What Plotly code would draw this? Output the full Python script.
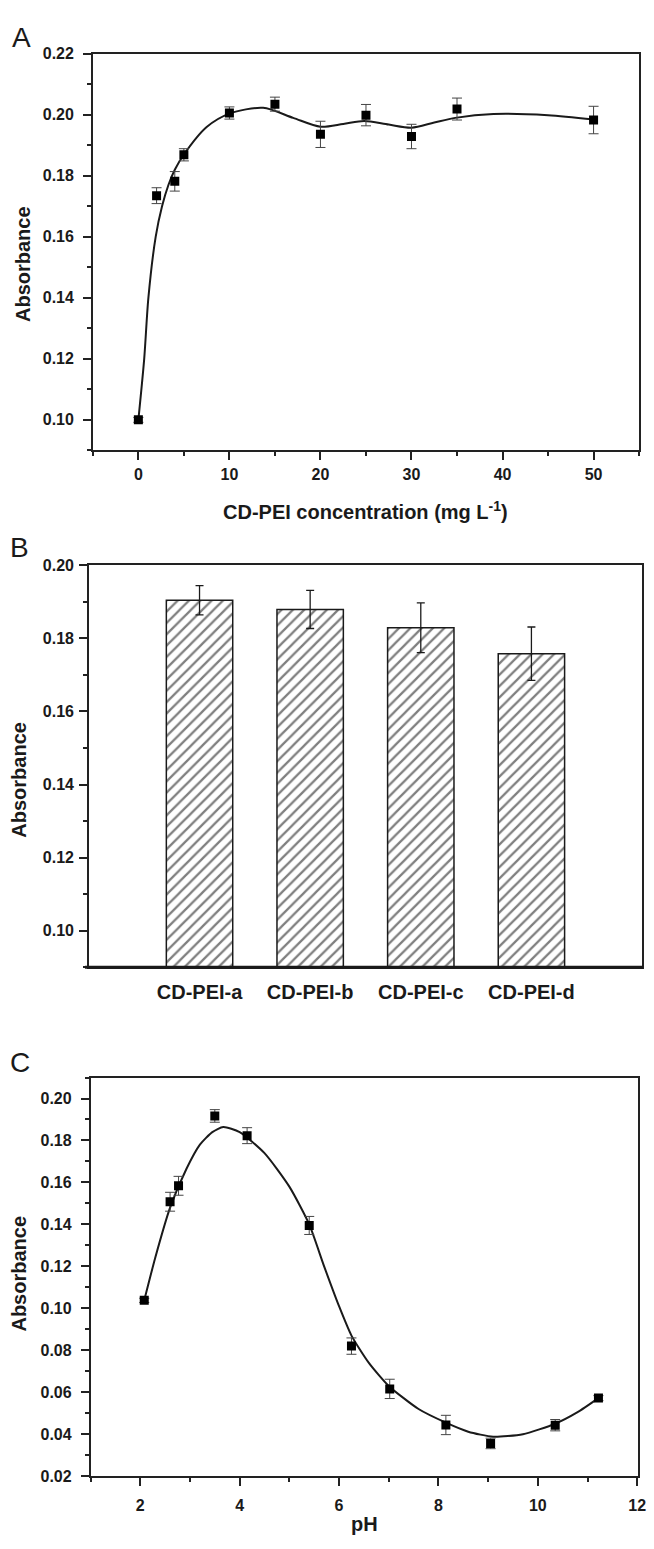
import plotly.graph_objects as go

W, H = 654, 1549

# ---------------- Panel A data ----------------
conc = [0, 2, 4, 5, 10, 15, 20, 25, 30, 35, 50]
abs_a = [0.1000, 0.1735, 0.1782, 0.1869, 0.2006, 0.2035, 0.1936, 0.1999, 0.1929, 0.2019, 0.1983]
err_a = [0.0008, 0.0026, 0.0032, 0.0020, 0.0020, 0.0023, 0.0043, 0.0035, 0.0040, 0.0036, 0.0045]
fit_a_x = [0, 0.64, 1.1, 1.9, 2.6, 3.3, 4, 5, 7.5, 10, 13.7, 17, 20, 22.5, 24.8, 27.5, 30, 32.5, 34.8, 39, 45, 50]
fit_a_y = [0.100, 0.120, 0.140, 0.160, 0.170, 0.177, 0.182, 0.187, 0.196, 0.2004, 0.2023, 0.1990, 0.1961,
           0.1970, 0.1980, 0.1968, 0.1958, 0.1975, 0.1990, 0.2003, 0.1999, 0.1985]

# ---------------- Panel B data ----------------
samples = ["CD-PEI-a", "CD-PEI-b", "CD-PEI-c", "CD-PEI-d"]
abs_b = [0.1904, 0.1879, 0.1829, 0.1758]
err_b = [0.0040, 0.0052, 0.0068, 0.0073]

# ---------------- Panel C data ----------------
ph = [2.08, 2.6, 2.77, 3.5, 4.15, 5.4, 6.25, 7.02, 8.15, 9.05, 10.35, 11.22]
abs_c = [0.1038, 0.1508, 0.1584, 0.1917, 0.1823, 0.1395, 0.0820, 0.0616, 0.0444, 0.0356, 0.0443, 0.0572]
err_c = [0.0010, 0.0045, 0.0045, 0.0030, 0.0038, 0.0043, 0.0039, 0.0046, 0.0046, 0.0025, 0.0027, 0.0012]
fit_c_x = [2.08, 2.3, 2.6, 2.93, 3.2, 3.45, 3.67, 4.0, 4.5, 5.0, 5.4, 5.7, 6.0, 6.25, 6.6, 7.0, 7.6, 8.15,
           8.6, 9.1, 9.7, 10.35, 10.8, 11.22]
fit_c_y = [0.1038, 0.124, 0.148, 0.1665, 0.178, 0.1840, 0.1864, 0.1840, 0.1740, 0.1580, 0.1400, 0.1200,
           0.1010, 0.0870, 0.0740, 0.0630, 0.0520, 0.0455, 0.0412, 0.0388, 0.0400, 0.0450, 0.0505, 0.0572]

FONT = "Liberation Sans, Arial, sans-serif"
INK = "#1a1a1a"


def px_x(v):
    return v / W


def px_y(v):
    return 1 - v / H


fig = go.Figure()

# Panel A
fig.add_trace(go.Scatter(x=fit_a_x, y=fit_a_y, mode="lines",
                         line=dict(color=INK, width=2, shape="spline", smoothing=0.8),
                         xaxis="x", yaxis="y", showlegend=False, hoverinfo="skip"))
fig.add_trace(go.Scatter(x=conc, y=abs_a, mode="markers",
                         marker=dict(symbol="square", size=9, color="black"),
                         error_y=dict(type="data", array=err_a, color="#444", thickness=1, width=5),
                         xaxis="x", yaxis="y", showlegend=False))

# Panel B
fig.add_trace(go.Bar(x=samples, y=abs_b, width=0.6,
                     marker=dict(color="white", line=dict(color=INK, width=1.5),
                                 pattern=dict(shape="/", fgcolor="black", bgcolor="white", size=8, solidity=0.28)),
                     error_y=dict(type="data", array=err_b, color=INK, thickness=1.3, width=4),
                     xaxis="x2", yaxis="y2", showlegend=False))

# Panel C
fig.add_trace(go.Scatter(x=fit_c_x, y=fit_c_y, mode="lines",
                         line=dict(color=INK, width=2, shape="spline", smoothing=0.6),
                         xaxis="x3", yaxis="y3", showlegend=False, hoverinfo="skip"))
fig.add_trace(go.Scatter(x=ph, y=abs_c, mode="markers",
                         marker=dict(symbol="square", size=9, color="black"),
                         error_y=dict(type="data", array=err_c, color="#444", thickness=1, width=5),
                         xaxis="x3", yaxis="y3", showlegend=False))

tickfont = dict(family=FONT, size=16, color=INK, weight="bold")
axis_common = dict(showline=True, linecolor="#222", linewidth=1.5, mirror=True, showgrid=False, zeroline=False,
                   ticks="outside", ticklen=8, tickwidth=1.5, tickcolor="#222", tickfont=tickfont,
                   ticklabeloverflow="allow")
minor_common = dict(ticklen=4, ticks="outside", tickwidth=1.5, tickcolor="#222")

fig.update_layout(
    width=W, height=H, margin=dict(l=0, r=0, t=0, b=0),
    paper_bgcolor="white", plot_bgcolor="white",
    xaxis=dict(axis_common, domain=[px_x(94), px_x(647)], range=[-5, 55], anchor="y",
               tickvals=[0, 10, 20, 30, 40, 50], ticklabelstandoff=1,
               minor=dict(minor_common, dtick=5, tick0=0)),
    yaxis=dict(axis_common, domain=[px_y(447), px_y(46)], range=[0.09, 0.2201], anchor="x",
               tickvals=[0.10, 0.12, 0.14, 0.16, 0.18, 0.20, 0.22], tickformat=".2f", ticklabelstandoff=6,
               minor=dict(minor_common, dtick=0.01, tick0=0.09)),
    xaxis2=dict(showline=True, linecolor="#222", linewidth=1.5, mirror=True, showgrid=False, zeroline=False,
                domain=[px_x(90), px_x(650)], range=[-1, 4], anchor="y2", type="category", ticks="",
                tickfont=dict(family=FONT, size=20, color=INK, weight="bold"), ticklabelstandoff=6),
    yaxis2=dict(axis_common, domain=[px_y(969.3), px_y(562.7)], range=[0.09, 0.2001], anchor="x2",
                tickvals=[0.10, 0.12, 0.14, 0.16, 0.18, 0.20], tickformat=".2f", ticklabelstandoff=2,
                minor=dict(minor_common, dtick=0.01, tick0=0.09)),
    xaxis3=dict(axis_common, domain=[px_x(91.7), px_x(645.6)], range=[1, 12.01], anchor="y3",
                tickvals=[2, 4, 6, 8, 10, 12], ticklabelstandoff=6,
                minor=dict(minor_common, dtick=1, tick0=1)),
    yaxis3=dict(axis_common, domain=[px_y(1483.7), px_y(1080.7)], range=[0.0199, 0.21], anchor="x3",
                tickvals=[0.02, 0.04, 0.06, 0.08, 0.10, 0.12, 0.14, 0.16, 0.18, 0.20], tickformat=".2f",
                ticklabelstandoff=6,
                minor=dict(minor_common, dtick=0.01, tick0=0.02)),
)

# thick baseline in panel B
fig.add_shape(type="line", xref="paper", yref="paper", x0=px_x(86), x1=px_x(651), y0=px_y(969.3), y1=px_y(969.3),
              line=dict(color=INK, width=3))

title_font = dict(family=FONT, size=20, color=INK, weight="bold")
label_font = dict(family=FONT, size=28, color=INK)


def ann(text, x, y, font, angle=0):
    fig.add_annotation(text=text, x=px_x(x), y=px_y(y), xref="paper", yref="paper", showarrow=False,
                       xanchor="center", yanchor="middle", textangle=angle, font=font)


ann("A", 22, 30, label_font)
ann("Absorbance", 24, 259, title_font, -90)
ann("CD-PEI concentration (mg L<sup>-1</sup>)", 370, 508, title_font)
ann("B", 20, 545, label_font)
ann("Absorbance", 19, 780, title_font, -90)
ann("C", 20, 1066, label_font)
ann("Absorbance", 19, 1279, title_font, -90)
ann("pH", 369, 1532, title_font)

fig.write_html("out.html")
